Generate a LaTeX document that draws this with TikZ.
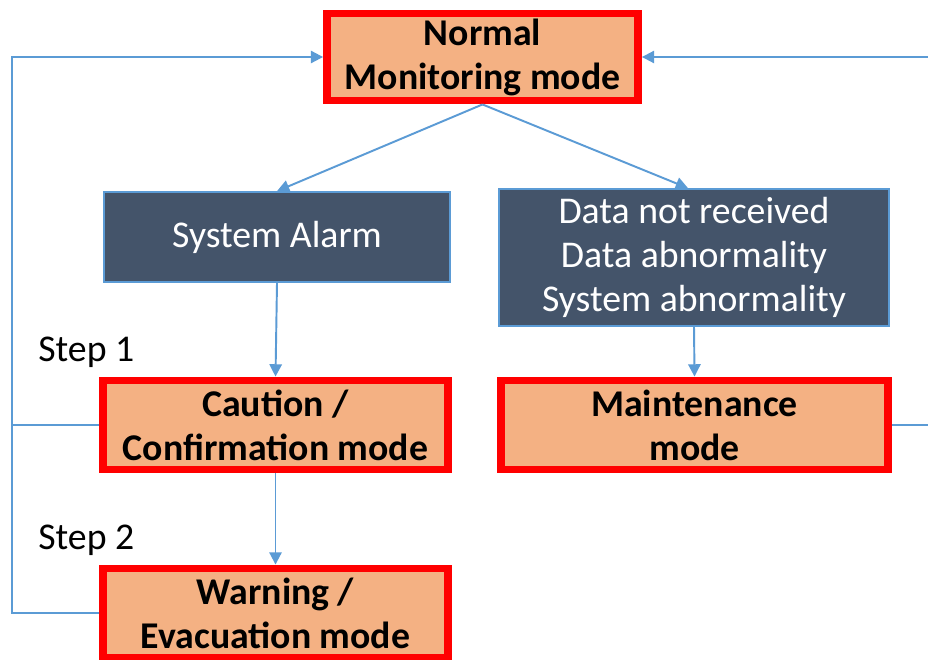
\documentclass[tikz,border=0pt]{standalone}
\usepackage{fontspec}
\setmainfont{Carlito}
\usetikzlibrary{arrows.meta}
\definecolor{modefill}{HTML}{F4B183}
\definecolor{alarmfill}{HTML}{44546A}
\definecolor{linkblue}{HTML}{5B9BD5}
\begin{document}
\begin{tikzpicture}[x=0.02cm,y=-0.02cm,>={Triangle[length=7pt,width=7pt]},
  mode/.style={draw=red,line width=4.5pt,fill=modefill,align=center,inner sep=0pt,
    font=\fontsize{21.5}{25}\selectfont\bfseries},
  alarm/.style={draw=linkblue,line width=1pt,fill=alarmfill,text=white,align=center,inner sep=0pt,
    font=\fontsize{21.5}{25}\selectfont},
  link/.style={draw=linkblue,line width=1.1pt},
  steplabel/.style={anchor=base west,inner sep=0pt,font=\fontsize{21.5}{25}\selectfont}]
\clip (0,0) rectangle (928,659);
\fill[white] (0,0) rectangle (928,659);
% mode boxes
\node[mode,minimum width=6.22cm,minimum height=1.74cm] (normal) at (482.5,57) {Normal\\Monitoring mode};
\node[mode,minimum width=6.9cm,minimum height=1.78cm] (caution) at (275.5,425) {Caution /\\Confirmation mode};
\node[mode,minimum width=7.74cm,minimum height=1.78cm] (maint) at (694.5,425) {Maintenance\\mode};
\node[mode,minimum width=6.9cm,minimum height=1.78cm] (warning) at (275.5,613) {Warning /\\Evacuation mode};
% alarm boxes
\node[alarm,minimum width=6.92cm,minimum height=1.8cm] (alarm) at (277,237) {System Alarm};
\node[alarm,minimum width=7.8cm,minimum height=2.74cm] (dataerr) at (694,257.5) {Data not received\\Data abnormality\\System abnormality};
% steps
\node[steplabel] (step1) at (38,361) {Step 1};
\node[steplabel] (step2) at (38,549) {Step 2};
% links
\draw[link,->] (normal.south) -- (alarm.north);
\draw[link,->] (normal.south) -- ([xshift=-0.12cm]dataerr.north);
\draw[link,->] (alarm.south) -- (caution.north);
\draw[link,->] (dataerr.south) -- (maint.north);
\draw[link,->] (caution.south) -- (warning.north);
\coordinate (leftbus) at (12,425);
\coordinate (rightbus) at (945,425);
\draw[link] (caution.west) -- (leftbus);
\draw[link,->] (warning.west) -| (leftbus) |- (normal.west);
\draw[link,->] (maint.east) -- (rightbus) |- (normal.east);
\end{tikzpicture}
\end{document}
